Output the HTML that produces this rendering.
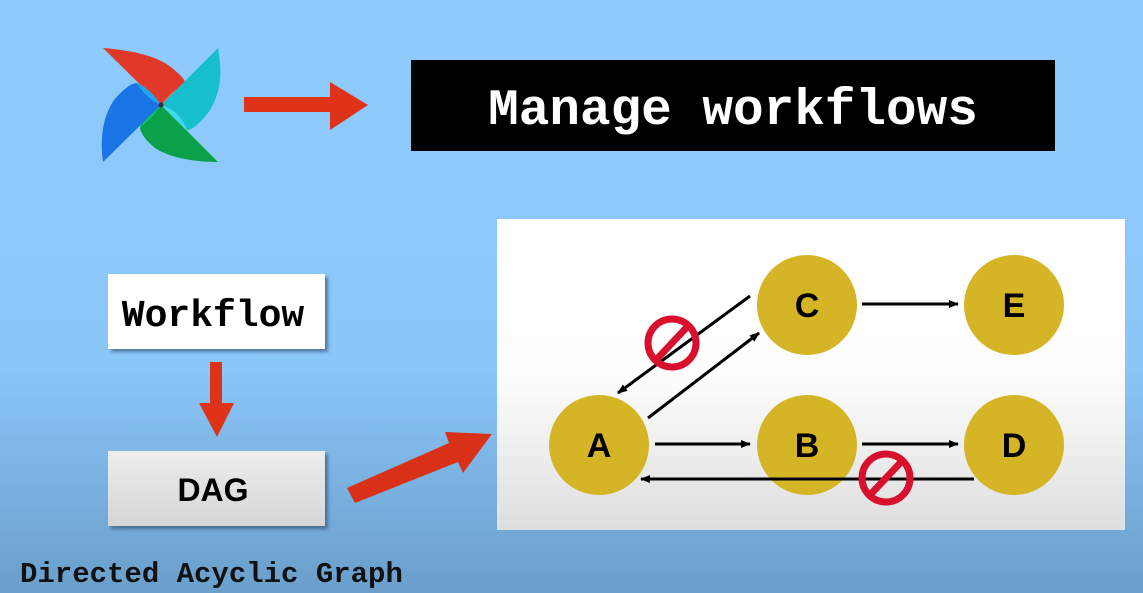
<!DOCTYPE html>
<html><head><style>
html,body{margin:0;padding:0;width:1143px;height:593px;overflow:hidden}
.m{font-family:"Liberation Mono",monospace;font-weight:bold}
.s{font-family:"Liberation Sans",sans-serif;font-weight:bold}
</style></head><body>
<svg width="1143" height="593" viewBox="0 0 1143 593" xmlns="http://www.w3.org/2000/svg">
<defs>
<linearGradient id="bg" x1="0" y1="0" x2="0" y2="1">
<stop offset="0" stop-color="#8ecbfd"/><stop offset="0.62" stop-color="#8bc6f7"/><stop offset="1" stop-color="#6a9ecb"/>
</linearGradient>
<linearGradient id="pn" x1="0" y1="0" x2="0" y2="1">
<stop offset="0" stop-color="#ffffff"/><stop offset="0.5" stop-color="#fdfdfd"/><stop offset="1" stop-color="#dedede"/>
</linearGradient>
<linearGradient id="dg" x1="0" y1="0" x2="0" y2="1">
<stop offset="0" stop-color="#ececec"/><stop offset="1" stop-color="#d6d6d6"/>
</linearGradient>
<marker id="ah" markerWidth="10" markerHeight="8" refX="9" refY="4" orient="auto" markerUnits="userSpaceOnUse"><path d="M0,0 L10,4 L0,8 z" fill="#000"/></marker>
<filter id="sh"><feDropShadow dx="3" dy="3" stdDeviation="1.5" flood-color="#2a4a6a" flood-opacity="0.6"/></filter>
</defs>
<rect width="1143" height="593" fill="url(#bg)"/>
<!-- pinwheel -->
<path d="M161,105 L103,48 C130,50 158,56 172,68 C182,76 187,82 185,85 C176,92 166,98 161,105z" fill="#e0392a"/>
<path d="M161,105 C168,95 176,88 185,85 C178,95 170,100 161,105z" fill="#fa6b56"/>
<path d="M161,105 L218,48 C222,70 222,90 210,110 C200,124 192,130 187,130 C180,122 170,112 161,105z" fill="#17bfcd"/>
<path d="M161,105 C172,108 182,116 187,130 C178,122 168,112 161,105z" fill="#3fd9f0"/>
<path d="M161,105 L218,162 C195,162 170,158 155,148 C145,140 140,132 140,127 C147,118 154,110 161,105z" fill="#0aa14a"/>
<path d="M161,105 C154,116 147,122 140,127 C145,116 152,110 161,105z" fill="#12c35c"/>
<path d="M161,105 L103,162 C100,140 102,118 114,100 C124,88 132,83 137,83 C146,90 154,98 161,105z" fill="#1a74e6"/>
<path d="M161,105 C150,100 142,92 137,83 C148,88 155,96 161,105z" fill="#23a6f2"/>
<circle cx="161" cy="105" r="2.5" fill="#333"/>
<!-- top arrow -->
<path d="M244,97 L330,97 L330,82 L368,105 L330,130 L330,112 L244,112z" fill="#de3318"/>
<rect x="411" y="60" width="644" height="91" fill="#000"/>
<text class="m" x="733" y="124" font-size="51" fill="#fff" text-anchor="middle">Manage workflows</text>
<!-- left boxes -->
<rect x="108" y="274" width="217" height="75" fill="#fff" filter="url(#sh)"/>
<text class="m" x="213" y="326" font-size="38" text-anchor="middle" fill="#000">Workflow</text>
<path d="M210,362 L222,362 L222,403 L234,403 L217,437 L199,403 L210,403z" fill="#de3318"/>
<rect x="108" y="451" width="217" height="75" fill="url(#dg)" filter="url(#sh)"/>
<text class="s" x="213" y="501" font-size="32" text-anchor="middle" fill="#000">DAG</text>
<path d="M347,488 L449,443 L445,432 L492,434 L463,473 L458,462 L355,503z" fill="#d93118"/>
<text class="m" x="20" y="582" font-size="29" fill="#111">Directed Acyclic Graph</text>
<!-- panel -->
<rect x="497" y="219" width="628" height="311" fill="url(#pn)"/>
<g fill="#d5b426">
<circle cx="807" cy="305" r="50"/><circle cx="1014" cy="305" r="50"/>
<circle cx="599" cy="445" r="50"/><circle cx="807" cy="445" r="50"/><circle cx="1014" cy="445" r="50"/>
</g>
<g class="s" font-size="34" text-anchor="middle" fill="#000">
<text x="807" y="317">C</text>
<text x="1014" y="317">E</text>
<text x="599" y="457">A</text>
<text x="807" y="457">B</text>
<text x="1014" y="457">D</text>
</g>
<g stroke="#000" stroke-width="3" marker-end="url(#ah)">
<line x1="862" y1="304" x2="958" y2="304"/>
<line x1="655" y1="444" x2="750" y2="444"/>
<line x1="862" y1="444" x2="958" y2="444"/>
<line x1="974" y1="479" x2="641" y2="479"/>
<line x1="648" y1="418" x2="759" y2="333"/>
<line x1="750" y1="296" x2="618" y2="393"/>
</g>
<g stroke="#d8102e" stroke-width="7" fill="none">
<circle cx="672" cy="343" r="24"/><line x1="656" y1="360" x2="688" y2="326"/>
<circle cx="886" cy="478" r="24"/><line x1="870" y1="495" x2="902" y2="461"/>
</g>
</svg>
</body></html>
